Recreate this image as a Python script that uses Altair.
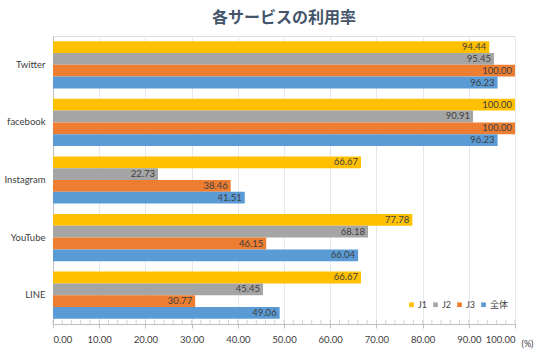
import altair as alt
import pandas as pd

services = ["Twitter", "facebook", "Instagram", "YouTube", "LINE"]
groups = ["J1", "J2", "J3", "全体"]
j1 = [94.44, 100.00, 66.67, 77.78, 66.67]
j2 = [95.45, 90.91, 22.73, 68.18, 45.45]
j3 = [100.00, 100.00, 38.46, 46.15, 30.77]
total = [96.23, 96.23, 41.51, 66.04, 49.06]
colors = ["#FFC000", "#A5A5A5", "#ED7D31", "#5B9BD5"]
x_ticks = [0, 10, 20, 30, 40, 50, 60, 70, 80, 90, 100]
minor_ticks = list(range(0, 101, 2))

rows = []
for g, vals in zip(groups, [j1, j2, j3, total]):
    for s, v in zip(services, vals):
        rows.append({"service": s, "group": g, "value": v, "label": f"{v:.2f}"})
df = pd.DataFrame(rows)

FONT = "Lato, 'Noto Sans CJK JP', sans-serif"

y_enc = alt.Y("service:N", sort=services, title=None,
              scale=alt.Scale(paddingInner=0.18, paddingOuter=0.09),
              axis=alt.Axis(labelColor="#404040", labelFontSize=9.5, labelFont=FONT,
                            ticks=False, domainColor="#bfbfbf", labelPadding=8))
yoff = alt.YOffset("group:N", sort=groups)

bars = alt.Chart(df).mark_bar().encode(
    x=alt.X("value:Q", scale=alt.Scale(domain=[0, 100], nice=False),
            axis=alt.Axis(values=x_ticks, format=".2f", labelColor="#404040",
                          labelFontSize=9.5, labelFont=FONT, gridColor="#e3e8ee",
                          domainColor="#bfbfbf", tickColor="#bfbfbf", tickSize=4,
                          labelPadding=6, title="(%)", titleFontSize=9,
                          titleFontWeight="normal", titleColor="#404040",
                          titleFont=FONT, titleX=474, titleY=15,
                          titleAlign="center", titleBaseline="top")),
    y=y_enc,
    yOffset=yoff,
    color=alt.Color("group:N", sort=groups,
                    scale=alt.Scale(domain=groups, range=colors),
                    legend=alt.Legend(title=None, orient="none", direction="horizontal",
                                      legendX=354, legendY=264, symbolType="square",
                                      symbolSize=22, labelFontSize=9, labelFont=FONT,
                                      labelColor="#404040", columnPadding=3,
                                      symbolStrokeWidth=0, labelOffset=2)),
)

text = alt.Chart(df).mark_text(align="right", baseline="middle", dx=-3,
                               fontSize=9.5, font=FONT, color="#404040").encode(
    x=alt.X("value:Q"),
    y=alt.Y("service:N", sort=services),
    yOffset=yoff,
    text="label:N",
)

minor = alt.Chart(pd.DataFrame({"t": minor_ticks})).mark_tick(
    orient="vertical", color="#bfbfbf", size=4, thickness=1).encode(
    x=alt.X("t:Q"),
    y=alt.value(286),
)

chart = alt.layer(bars, text, minor).properties(
    width=462, height=288,
    title=alt.TitleParams("各サービスの利用率", fontSize=16, font="Noto Sans CJK JP",
                          fontWeight="bold", color="#44546A", anchor="middle", offset=10),
    padding={"left": 53, "top": 36, "right": 25, "bottom": 32},
    autosize=alt.AutoSizeParams(type="none"),
).configure_view(stroke="#d9d9d9").configure(background="white")

chart.save("out.html", embed_options={"renderer": "svg", "actions": False})
